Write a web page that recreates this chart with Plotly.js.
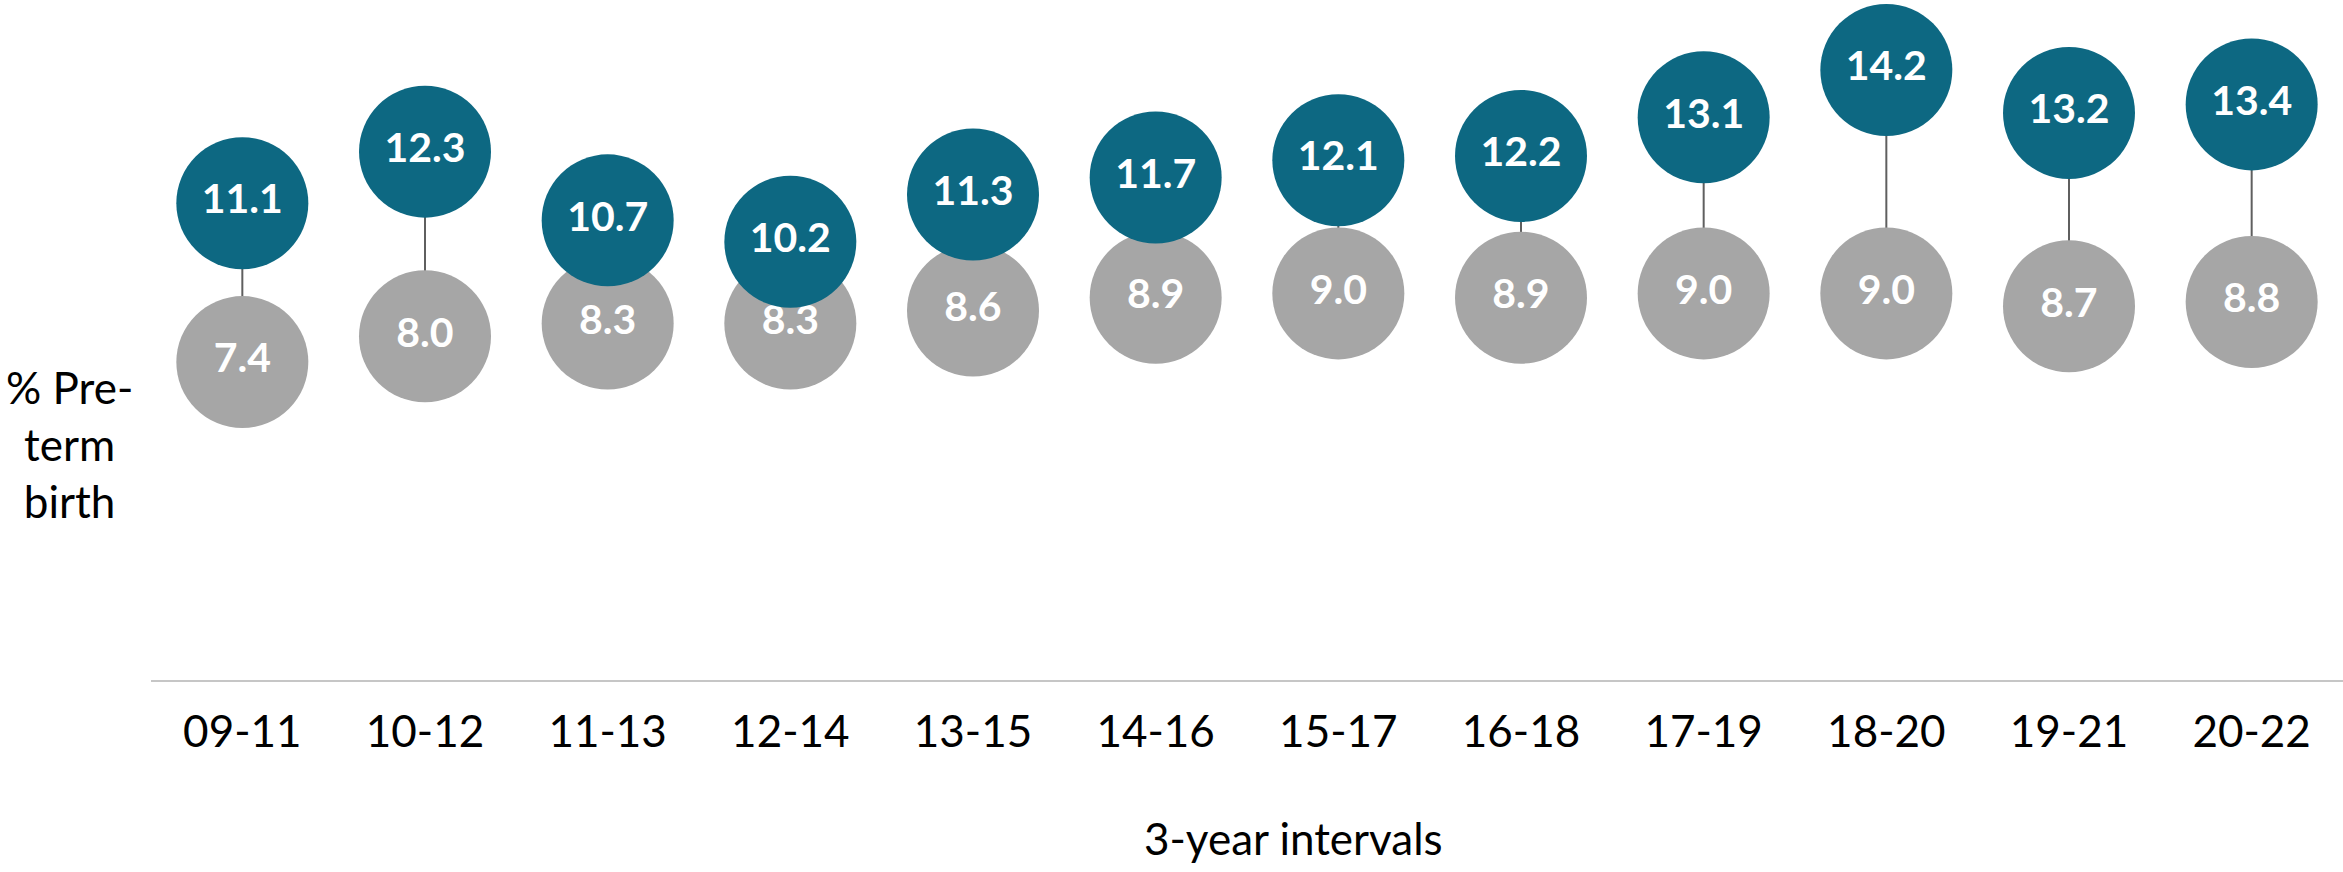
<!DOCTYPE html>
<html>
<head>
<meta charset="utf-8">
<script src="https://cdn.plot.ly/plotly-3.0.1.min.js"></script>
<style>html,body{margin:0;padding:0;background:#fff;}#chart{width:2343px;height:872px;}</style>
</head>
<body>
<div id="chart"></div>
<script>
const categories = ["09-11","10-12","11-13","12-14","13-15","14-16","15-17","16-18","17-19","18-20","19-21","20-22"];
const highValues = [11.1, 12.3, 10.7, 10.2, 11.3, 11.7, 12.1, 12.2, 13.1, 14.2, 13.2, 13.4];
const lowValues = [7.4, 8.0, 8.3, 8.3, 8.6, 8.9, 9.0, 8.9, 9.0, 9.0, 8.7, 8.8];
const xTitle = "3-year intervals";
const yTitle = "% Pre-<br>term<br>birth";

const connX = [], connY = [];
categories.forEach((c, i) => { connX.push(c, c, null); connY.push(lowValues[i], highValues[i], null); });

const labelFont = {family: "Lato, 'Open Sans', sans-serif", size: 41, color: "#ffffff", weight: 700};

const traces = [
  {x: connX, y: connY, mode: "lines", line: {color: "#5f5f5f", width: 2}, hoverinfo: "skip", showlegend: false, cliponaxis: false},
  {x: categories, y: lowValues, mode: "markers+text", text: lowValues.map(v => v.toFixed(1)), textposition: "middle center",
   textfont: labelFont, marker: {size: 132, color: "#a6a6a6", line: {width: 0}}, showlegend: false, cliponaxis: false},
  {x: categories, y: highValues, mode: "markers+text", text: highValues.map(v => v.toFixed(1)), textposition: "middle center",
   textfont: labelFont, marker: {size: 132, color: "#0d6882", line: {width: 0}}, showlegend: false, cliponaxis: false}
];

const layout = {
  width: 2343, height: 872,
  margin: {l: 151, r: 0, t: 0, b: 192, pad: 0},
  paper_bgcolor: "#ffffff", plot_bgcolor: "#ffffff",
  font: {family: "Lato, 'Open Sans', sans-serif", color: "#000000", size: 44},
  showlegend: false,
  xaxis: {type: "category", range: [-0.5, 11.5], showline: true, linecolor: "#c6c6c6", linewidth: 2,
          showgrid: false, zeroline: false, ticks: "", ticklabelstandoff: 12, tickfont: {size: 44, color: "#000"}, fixedrange: true},
  yaxis: {range: [0, 15.83], visible: false, showgrid: false, zeroline: false, fixedrange: true},
  annotations: [
    {text: xTitle, xref: "paper", yref: "paper", x: 0.5214, y: -0.232, xanchor: "center", yanchor: "middle",
     showarrow: false, font: {size: 44, color: "#000"}},
    {text: yTitle, xref: "paper", yref: "paper", x: -0.0374, y: 0.347, xanchor: "center", yanchor: "middle",
     align: "center", showarrow: false, font: {size: 44, color: "#000"}}
  ]
};

Plotly.newPlot("chart", traces, layout, {displayModeBar: false, staticPlot: true});
</script>
</body>
</html>
